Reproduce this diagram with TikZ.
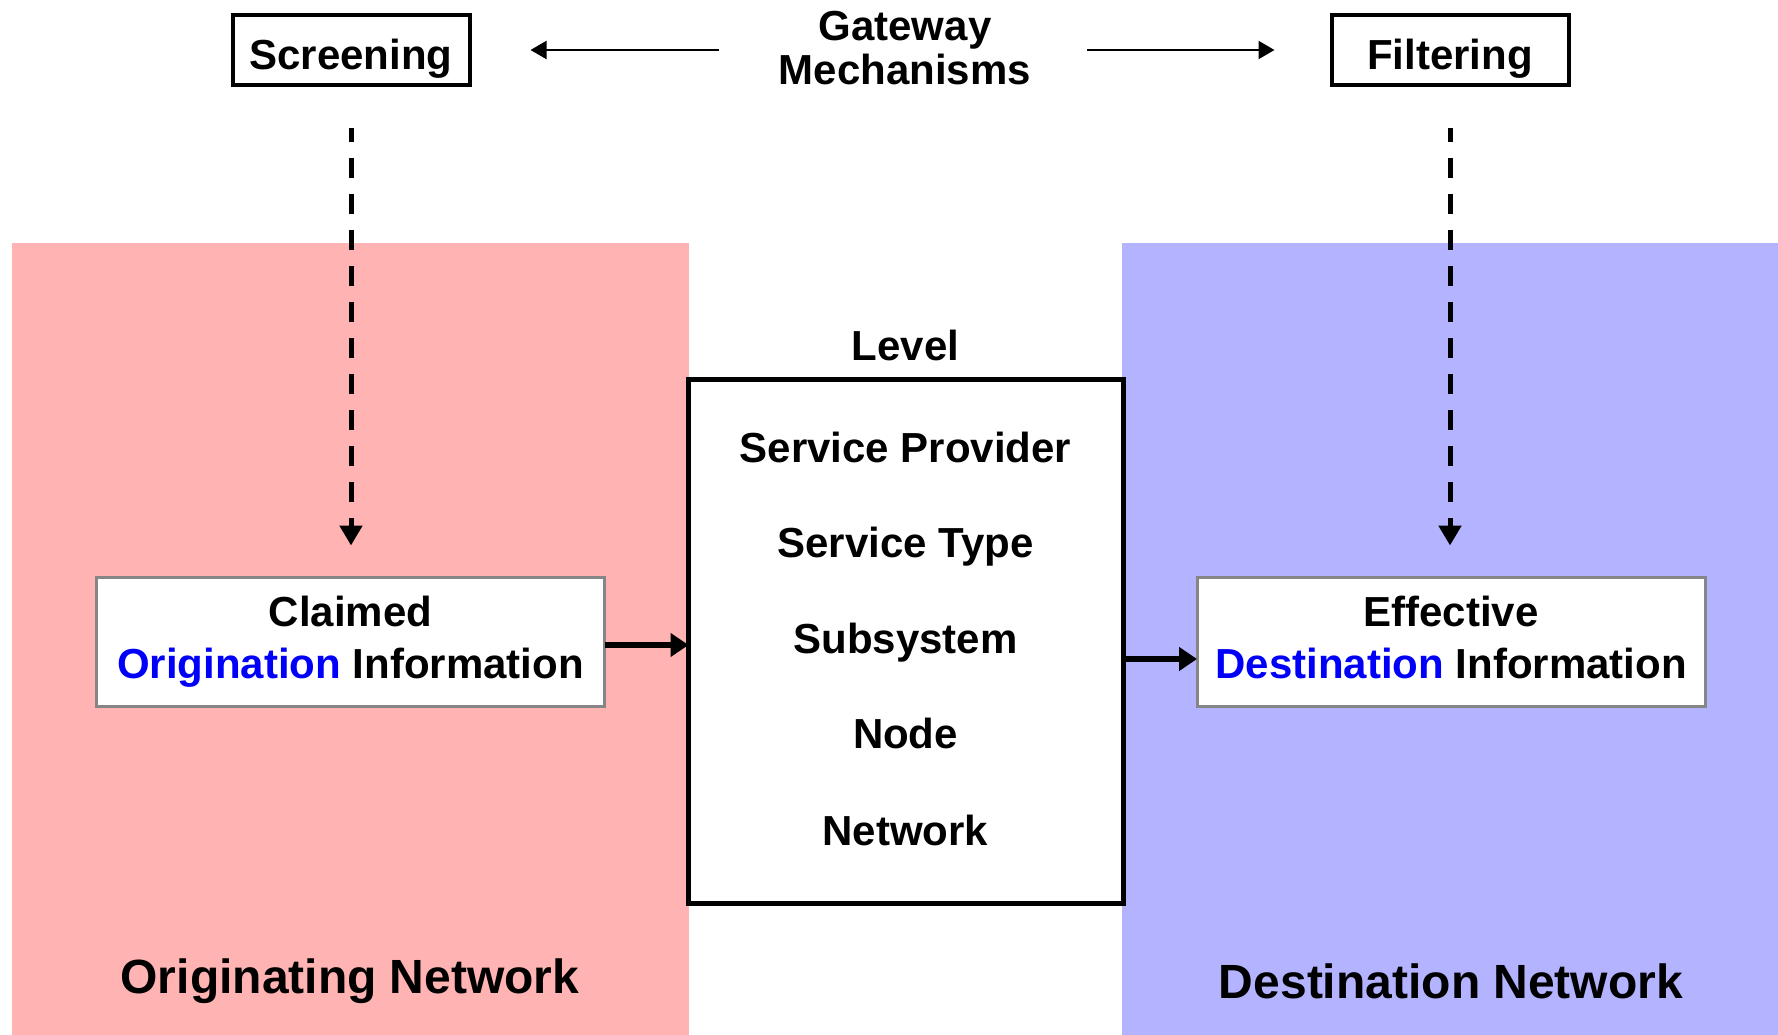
\documentclass[tikz,border=0pt]{standalone}
\usepackage{fontspec}
\setmainfont{Liberation Sans}
\usetikzlibrary{arrows.meta}
\definecolor{orignet}{RGB}{255,179,179}
\definecolor{destnet}{RGB}{179,179,255}
\definecolor{infoedge}{RGB}{134,134,134}
\definecolor{keyword}{RGB}{0,0,250}

\begin{document}
\begin{tikzpicture}[x=1pt,y=-1pt,
  every node/.style={font=\fontsize{42}{50}\selectfont\bfseries, inner sep=0pt, outer sep=0pt},
  txt/.style={anchor=base},
  bigtxt/.style={anchor=base, font=\fontsize{48}{56}\selectfont\bfseries},
  mechbox/.style={draw, line width=4pt, minimum width=237pt, minimum height=70pt,
                  text height=40pt, text depth=0pt},
  infobox/.style={draw=infoedge, fill=white, line width=3pt, minimum width=508pt, minimum height=129pt},
  levelbox/.style={draw, fill=white, line width=5pt, minimum width=435pt, minimum height=524pt},
  thinarrow/.style={line width=2pt, -{Triangle[length=16pt,width=18pt]}},
  dasharrow/.style={line width=5pt, dash pattern=on 20pt off 16pt, dash phase=6pt,
                    -{Triangle[length=20pt,width=22pt]}},
  flowarrow/.style={line width=5.5pt, -{Triangle[length=18pt,width=23pt]}}
]
\useasboundingbox (0,0) rectangle (1778,1035);

% network areas
\fill[orignet] (12,243) rectangle (689,1035);
\fill[destnet] (1122,243) rectangle (1778,1035);

% gateway mechanisms
\node[mechbox] (screen) at (351,50) {Screening};
\node[mechbox] (filter) at (1450,50) {Filtering};
\node[txt] (gwA) at (905,41) {Gateway};
\node[txt] (gwB) at (905,84.5) {Mechanisms};

% level box
\node[txt] (levellabel) at (905.5,360) {Level};
\node[levelbox] (level) at (906,641.5) {};
\node[txt] (lvA) at (905.5,462) {Service Provider};
\node[txt] (lvB) at (905.5,557.5) {Service Type};
\node[txt] (lvC) at (905.5,653) {Subsystem};
\node[txt] (lvD) at (905.5,748.5) {Node};
\node[txt] (lvE) at (905.5,845) {Network};

% information boxes
\node[infobox] (claimed) at (350.5,642) {};
\node[txt] (claimedA) at (350.5,626) {Claimed};
\node[txt] (claimedB) at (350.5,678) {{\color{keyword}Origination} Information};
\node[infobox] (effective) at (1451,642) {};
\node[txt] (effectiveA) at (1451,626) {Effective};
\node[txt] (effectiveB) at (1451,678) {{\color{keyword}Destination} Information};

% network names
\node[bigtxt] (orignetname) at (350,993) {Originating Network};
\node[bigtxt] (destnetname) at (1451,998) {Destination Network};

% connectors
\draw[thinarrow, shorten >=61pt] ([xshift=-60pt]gwB.west |- screen.east) -- (screen.east);
\draw[thinarrow, shorten >=57pt] ([xshift=56pt]gwB.east |- filter.west) -- (filter.west);
\draw[dasharrow, shorten <=43pt, shorten >=32pt] (screen.south) -- (screen.south |- claimed.north);
\draw[dasharrow, shorten <=43pt, shorten >=32pt] (filter.south) -- (filter.south |- effective.north);
\draw[flowarrow] ([yshift=-3pt]claimed.east) -- ([yshift=-3pt]claimed.east -| level.west);
\draw[flowarrow] ([yshift=-17pt]level.east |- effective.west) -- ([yshift=-17pt]effective.west);
\end{tikzpicture}
\end{document}
